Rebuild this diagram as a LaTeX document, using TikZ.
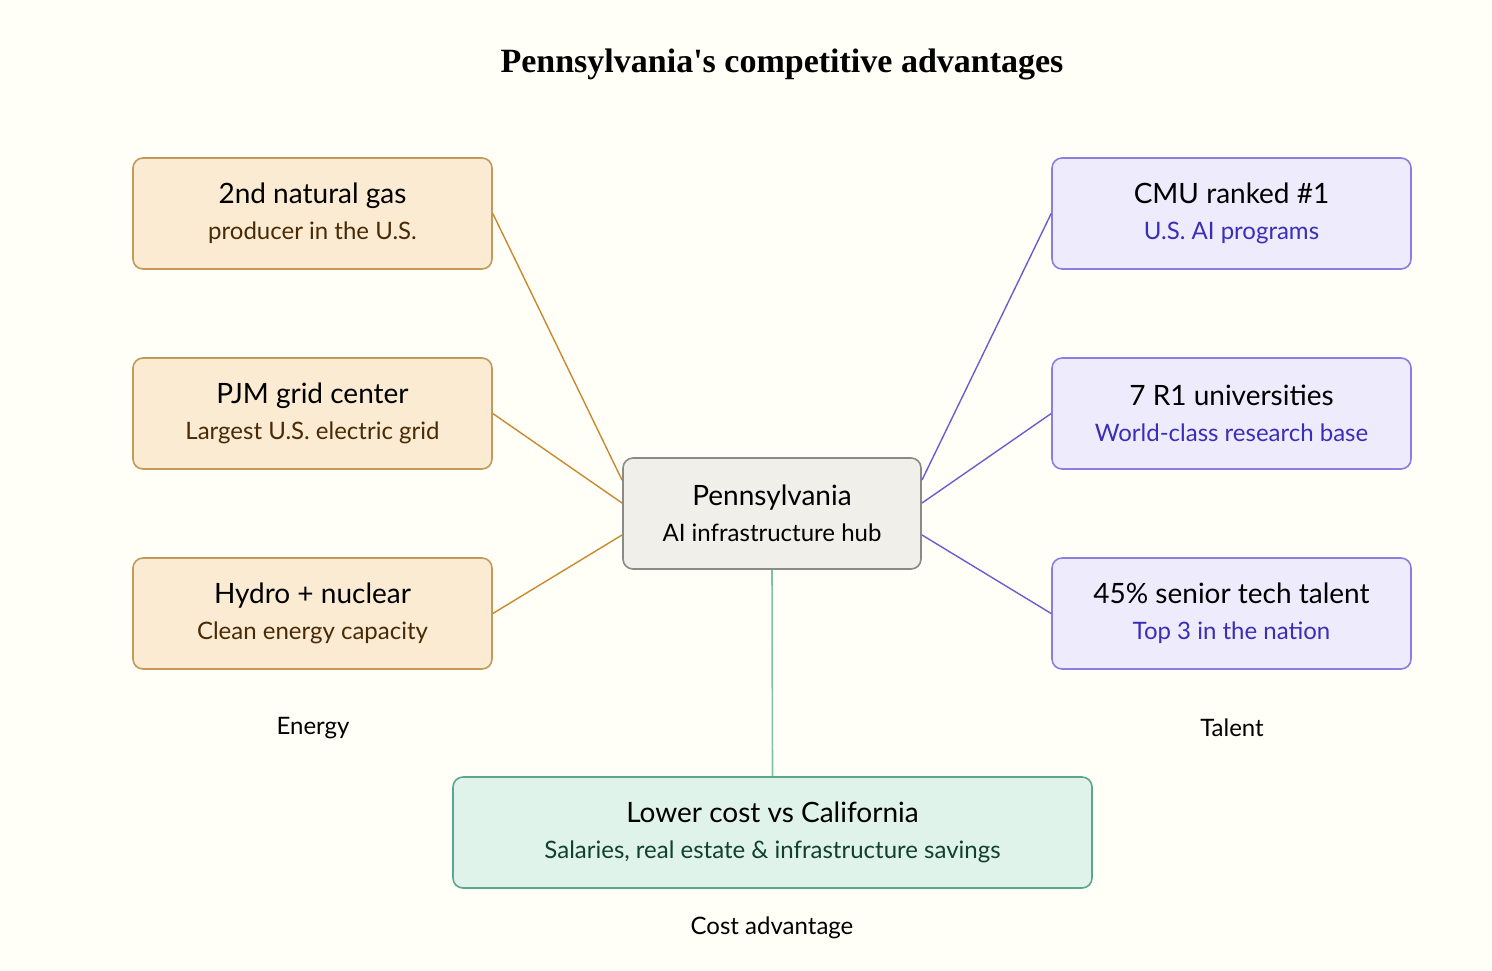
\documentclass[tikz,border=0pt]{standalone}
\usepackage{fontspec}
\setmainfont{Lato}
\newfontfamily\titlefont{Liberation Serif}
\definecolor{ofill}{HTML}{FAEBD2}\definecolor{odraw}{HTML}{C49A5A}\definecolor{oline}{HTML}{C88A2E}\definecolor{otext}{HTML}{4A2A05}
\definecolor{pfill}{HTML}{EEEBFC}\definecolor{pdraw}{HTML}{8A7EE0}\definecolor{pline}{HTML}{6C5CD0}\definecolor{ptext}{HTML}{3A2EB8}
\definecolor{gfill}{HTML}{E0F3EA}\definecolor{gdraw}{HTML}{5AA68E}\definecolor{gline}{HTML}{7CC2A8}\definecolor{gtext}{HTML}{10402F}
\definecolor{cfill}{HTML}{F1EFEA}\definecolor{cdraw}{HTML}{8A8A88}
\begin{document}
\begin{tikzpicture}[x=0.5pt,y=-0.5pt,
 box/.style={rounded corners=5pt,line width=0.8pt,minimum width=179.5pt,minimum height=55.5pt,align=center,font=\fontsize{14}{20}\selectfont},
 obox/.style={box,fill=ofill,draw=odraw},
 pbox/.style={box,fill=pfill,draw=pdraw},
 lbl/.style={font=\fontsize{12}{14}\selectfont}]
\fill[white!97!yellow] (0,0) rectangle (1492,970);
\useasboundingbox (0,0) rectangle (1492,970);
\node[font=\titlefont\bfseries\fontsize{17}{20}\selectfont] (title) at (782,64) {Pennsylvania's competitive advantages};
\node[obox] (e1) at (312.5,213.5) {2nd natural gas\\[-2pt]{\fontsize{12}{14}\selectfont\color{otext}producer in the U.S.}};
\node[obox] (e2) at (312.5,413.5) {PJM grid center\\[-2pt]{\fontsize{12}{14}\selectfont\color{otext}Largest U.S. electric grid}};
\node[obox] (e3) at (312.5,613.5) {Hydro + nuclear\\[-2pt]{\fontsize{12}{14}\selectfont\color{otext}Clean energy capacity}};
\node[pbox] (t1) at (1231.5,213.5) {CMU ranked \#1\\[-2pt]{\fontsize{12}{14}\selectfont\color{ptext}U.S. AI programs}};
\node[pbox] (t2) at (1231.5,413.5) {7 R1 universities\\[-2pt]{\fontsize{12}{14}\selectfont\color{ptext}World-class research base}};
\node[pbox] (t3) at (1231.5,613.5) {45\% senior tech talent\\[-2pt]{\fontsize{12}{14}\selectfont\color{ptext}Top 3 in the nation}};
\node[box,fill=cfill,draw=cdraw,minimum width=149pt] (c) at (772,513.5) {Pennsylvania\\[-2pt]{\fontsize{12}{14}\selectfont AI infrastructure hub}};
\node[box,fill=gfill,draw=gdraw,minimum width=319.5pt] (g) at (772.5,832.5) {Lower cost vs California\\[-2pt]{\fontsize{12}{14}\selectfont\color{gtext}Salaries, real estate \& infrastructure savings}};
\node[lbl] (le) at (313,728) {Energy};
\node[lbl] (lt) at (1232,728) {Talent};
\node[lbl] (lc) at (772,928) {Cost advantage};
\coordinate (cl1) at (622,480);\coordinate (cl2) at (622,503);\coordinate (cl3) at (622,535);
\coordinate (cr1) at (922,480);\coordinate (cr2) at (922,503);\coordinate (cr3) at (922,535);
\draw[oline,line width=0.7pt] (e1.east) -- (cl1) (e2.east) -- (cl2) (e3.east) -- (cl3);
\draw[pline,line width=0.7pt] (t1.west) -- (cr1) (t2.west) -- (cr2) (t3.west) -- (cr3);
\draw[gline,line width=0.8pt] (c.south) -- (g.north);
\end{tikzpicture}
\end{document}
